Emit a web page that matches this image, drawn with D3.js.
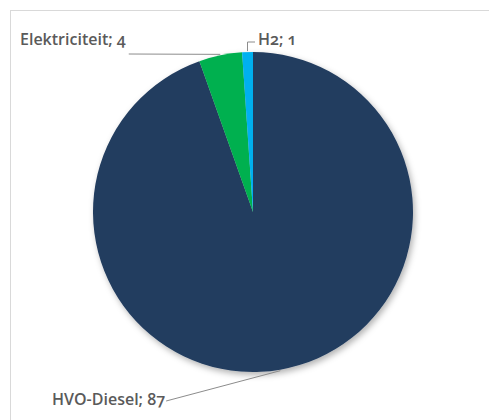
<!DOCTYPE html>
<html>
<head>
<meta charset="utf-8">
<script src="https://cdn.jsdelivr.net/npm/d3@7"></script>
<style>
  html, body { margin: 0; padding: 0; background: #ffffff; }
  svg { display: block; }
  .lbl { font-family: "Open Sans", "Noto Sans", sans-serif; font-size: 16px; font-weight: 600; fill: #5a5a5a; font-feature-settings: "onum"; }
</style>
</head>
<body>
<svg id="chart" width="489" height="420"></svg>
<script>
// Energy carriers and their shares
const categories = ["HVO-Diesel", "Elektriciteit", "H2"];
const values = [87, 4, 1];
const colors = ["#233d5f", "#00b050", "#00b0f0"];

const svg = d3.select("#chart");
const W = 489, H = 420;
const cx = 253, cy = 212, R = 160;

// chart frame
svg.append("rect")
  .attr("x", 10.5).attr("y", 10.5)
  .attr("width", W).attr("height", H)
  .attr("fill", "#ffffff")
  .attr("stroke", "#d9d9d9").attr("stroke-width", 1);

const defs = svg.append("defs");
const f = defs.append("filter").attr("id", "shadow")
  .attr("x", "-20%").attr("y", "-20%").attr("width", "140%").attr("height", "140%");
f.append("feDropShadow")
  .attr("dx", 2).attr("dy", 3).attr("stdDeviation", 3)
  .attr("flood-color", "#000").attr("flood-opacity", 0.3);

const data = categories.map((c, i) => ({ name: c, value: values[i], color: colors[i] }));
const pie = d3.pie().value(d => d.value).sort(null);
const arcs = pie(data);
const arc = d3.arc().innerRadius(0).outerRadius(R);

const g = svg.append("g").attr("transform", `translate(${cx},${cy})`);
const slices = g.append("g").attr("filter", "url(#shadow)");
slices.selectAll("path")
  .data(arcs)
  .join("path")
  .attr("d", arc)
  .attr("fill", d => d.data.color);

// point on the rim at the middle of a slice
function rim(d, r) {
  const a = (d.startAngle + d.endAngle) / 2;
  return [r * Math.sin(a), -r * Math.cos(a)];
}

// label anchors (relative to the pie centre); leader lines start next to the text
const labelPos = {
  "HVO-Diesel": { x: 52 - cx, y: 405 - cy, line: (b, p) => [[b.x + b.width + 1, 401 - cy], p] },
  "Elektriciteit": { x: 20 - cx, y: 45 - cy, line: (b, p) => [[b.x + b.width + 3, 54 - cy], p] },
  "H2": { x: 258 - cx, y: 45 - cy, line: (b, p) => [[b.x - 3, 42 - cy], [p[0], 42 - cy], p] }
};

const lineGen = d3.line();
arcs.forEach(d => {
  const lp = labelPos[d.data.name];
  const p = rim(d, R + 1);
  const t = g.append("text")
    .attr("class", "lbl")
    .attr("x", lp.x).attr("y", lp.y)
    .text(`${d.data.name}; ${d.data.value}`);
  const b = t.node().getBBox();
  g.insert("path", "text")
    .attr("d", lineGen(lp.line(b, p)))
    .attr("fill", "none")
    .attr("stroke", "#8c8c8c")
    .attr("stroke-width", 1);
});
</script>
</body>
</html>
